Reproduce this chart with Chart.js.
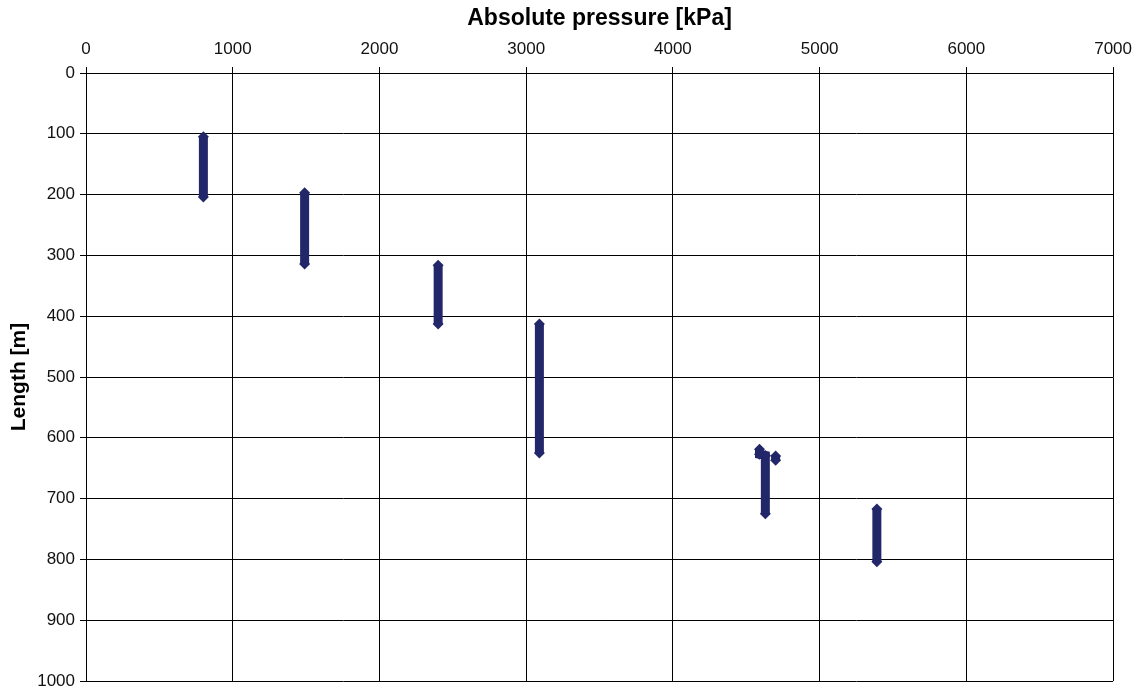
<!DOCTYPE html>
<html>
<head>
<meta charset="utf-8">
<script src="https://cdn.jsdelivr.net/npm/chart.js@4/dist/chart.umd.min.js"></script>
<style>
  html, body { margin: 0; padding: 0; background: #fff; }
  #wrap { width: 1139px; height: 691px; }
</style>
</head>
<body>
<div id="wrap"><canvas id="pressure-graph" width="1139" height="691"></canvas></div>
<script>
// Pressure readings per run: x = absolute pressure [kPa], y = length [m]
const run1Pressure = [800, 800];
const run1Length = [105, 204];

const run2Pressure = [1490, 1490];
const run2Length = [197, 314];

const run3Pressure = [2400, 2400];
const run3Length = [316, 413];

const run4Pressure = [3090, 3090];
const run4Length = [413, 625];

const run5Pressure = [4590, 4590, 4630, 4630];
const run5Length = [619, 627, 629, 725];

const run6Pressure = [4700, 4700];
const run6Length = [630, 637];

const run7Pressure = [5390, 5390];
const run7Length = [717, 804];

const pressureTicks = [0, 1000, 2000, 3000, 4000, 5000, 6000, 7000];
const lengthTicks = [0, 100, 200, 300, 400, 500, 600, 700, 800, 900, 1000];

const runs = [
  [run1Pressure, run1Length],
  [run2Pressure, run2Length],
  [run3Pressure, run3Length],
  [run4Pressure, run4Length],
  [run5Pressure, run5Length],
  [run6Pressure, run6Length],
  [run7Pressure, run7Length]
];

const navy = '#22276a';

const datasets = runs.map(([xs, ys]) => ({
  data: xs.map((x, i) => ({ x: x, y: ys[i] })),
  borderColor: navy,
  backgroundColor: navy,
  borderWidth: 9,
  borderCapStyle: 'butt',
  borderJoinStyle: 'miter',
  pointStyle: 'rectRot',
  pointRadius: 5.5,
  pointBorderWidth: 0,
  showLine: true,
  tension: 0
}));

const tickFont = { family: 'Liberation Sans, Arial, sans-serif', size: 17 };
const xTitleFont = { family: 'Liberation Sans, Arial, sans-serif', size: 23, weight: 'bold' };
const yTitleFont = { family: 'Liberation Sans, Arial, sans-serif', size: 21, weight: 'bold' };

new Chart(document.querySelector('#pressure-graph'), {
  type: 'scatter',
  data: { datasets: datasets },
  options: {
    responsive: false,
    animation: false,
    layout: { padding: { left: 0, top: 0, right: 25, bottom: 10 } },
    plugins: {
      legend: { display: false },
      tooltip: { enabled: false }
    },
    scales: {
      x: {
        type: 'linear',
        position: 'top',
        min: 0,
        max: 7000,
        afterBuildTicks: (scale) => { scale.ticks = pressureTicks.map(v => ({ value: v })); },
        afterFit: (scale) => { scale.height = 73; },
        ticks: { color: '#111', font: tickFont, padding: 7, maxRotation: 0, callback: (v) => String(v) },
        grid: { color: '#000', lineWidth: 1, tickLength: 6, drawTicks: true },
        border: { color: '#000', width: 1 },
        title: { display: true, text: 'Absolute pressure [kPa]', color: '#000', font: xTitleFont, padding: { top: 5, bottom: 0 } }
      },
      y: {
        type: 'linear',
        reverse: true,
        min: 0,
        max: 1000,
        afterBuildTicks: (scale) => { scale.ticks = lengthTicks.map(v => ({ value: v })); },
        afterFit: (scale) => {
          scale.width = 86;
          scale.paddingTop = 0;
          scale.paddingBottom = 0;
        },
        ticks: { color: '#111', font: tickFont, padding: 5, callback: (v) => String(v) },
        grid: { color: '#000', lineWidth: 1, tickLength: 6, drawTicks: true },
        border: { color: '#000', width: 1 },
        title: { display: true, text: 'Length [m]', color: '#000', font: yTitleFont, padding: { top: 7, bottom: 0 } }
      }
    }
  }
});
</script>
</body>
</html>
